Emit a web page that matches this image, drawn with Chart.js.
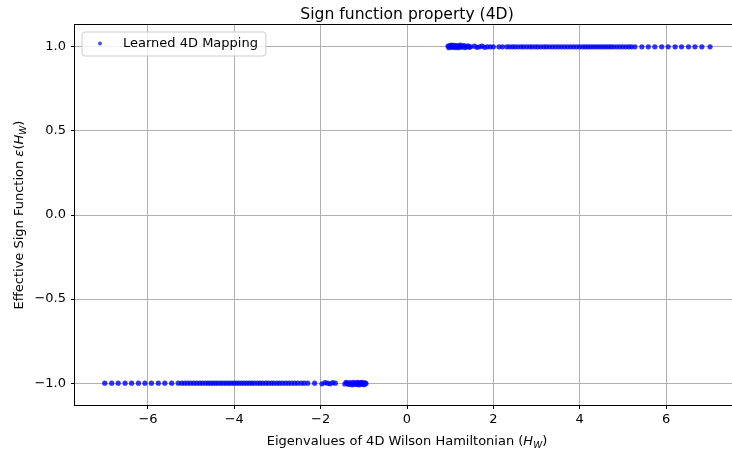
<!DOCTYPE html>
<html>
<head>
<meta charset="utf-8">
<title>Sign function property (4D)</title>
<script src="https://cdn.jsdelivr.net/npm/chart.js@4.4.0/dist/chart.umd.min.js"></script>
<style>
  html, body { margin: 0; padding: 0; background: #fff; overflow: hidden; }
  #wrap { width: 732px; height: 451px; overflow: hidden; }
</style>
</head>
<body>
<div id="wrap"><canvas id="chart" width="760" height="451"></canvas></div>
<script>
//! Data

const seriesLabel = "Learned 4D Mapping";

// negative eigenvalues -> sign -1
const negX = [
  -7.00, -6.84, -6.69, -6.53, -6.38, -6.22, -6.07, -5.92, -5.76, -5.61,
  -5.45, -5.30, -5.22, -5.15, -5.08, -5.01, -4.94, -4.87, -4.80, -4.74,
  -4.67, -4.61, -4.55, -4.49, -4.43, -4.37, -4.31, -4.25, -4.19, -4.13,
  -4.07, -4.01, -3.95, -3.89, -3.83, -3.77, -3.71, -3.65, -3.59, -3.53,
  -3.46, -3.40, -3.34, -3.27, -3.21, -3.14, -3.08, -3.01, -2.95, -2.88,
  -2.81, -2.74, -2.67, -2.60, -2.53, -2.45, -2.38, -2.30, -2.14,
  -1.97, -1.90, -1.84, -1.78, -1.72, -1.66,
  -1.44, -1.41, -1.38, -1.35, -1.32, -1.29, -1.27, -1.24, -1.22, -1.19,
  -1.17, -1.15, -1.13, -1.11, -1.09, -1.07, -1.05, -1.03, -1.01, -0.99,
  -0.97, -0.95
];
const negY = [
  -1.0, -1.0, -1.0, -1.0, -1.0, -1.0, -1.0, -1.0, -1.0, -1.0,
  -1.0, -1.0, -1.0, -1.0, -1.0, -1.0, -1.0, -1.0, -1.0, -1.0,
  -1.0, -1.0, -1.0, -1.0, -1.0, -1.0, -1.0, -1.0, -1.0, -1.0,
  -1.0, -1.0, -1.0, -1.0, -1.0, -1.0, -1.0, -1.0, -1.0, -1.0,
  -1.0, -1.0, -1.0, -1.0, -1.0, -1.0, -1.0, -1.0, -1.0, -1.0,
  -1.0, -1.0, -1.0, -1.0, -1.0, -1.0, -1.0, -1.0, -1.0,
  -1.004, -0.997, -1.0, -1.004, -0.997, -1.0,
  -1.005, -0.995, -1.0, -1.008, -0.997, -1.003, -1.01, -0.995, -1.006, -1.0,
  -1.008, -0.996, -1.004, -1.01, -0.997, -1.0, -1.007, -0.995, -1.004, -1.009,
  -0.998, -1.002
];

// positive eigenvalues -> sign +1
const posX = [
  0.95, 0.97, 0.99, 1.01, 1.03, 1.05, 1.07, 1.09, 1.11, 1.13,
  1.15, 1.17, 1.19, 1.22, 1.24, 1.27, 1.29, 1.32, 1.35, 1.38,
  1.41, 1.44, 1.47,
  1.56, 1.62, 1.68, 1.74, 1.80, 1.86, 1.93, 2.00,
  2.13, 2.21,
  2.31, 2.37, 2.44, 2.50, 2.57, 2.64, 2.70, 2.77, 2.84, 2.90,
  2.97, 3.03, 3.10, 3.17, 3.23, 3.30, 3.37, 3.44, 3.51, 3.58,
  3.65, 3.72, 3.79, 3.86, 3.93, 4.00, 4.07,
  4.13, 4.19, 4.25, 4.31, 4.37, 4.43, 4.49, 4.55, 4.61, 4.67,
  4.73, 4.79, 4.86, 4.93, 5.00, 5.07, 5.14, 5.20,
  5.28, 5.44, 5.59, 5.74, 5.90, 6.05, 6.21, 6.36, 6.52, 6.67,
  6.83, 7.02
];
const posY = [
  1.005, 0.995, 1.008, 1.0, 1.01, 0.997, 1.004, 1.009, 0.996, 1.006,
  1.0, 1.008, 0.995, 1.004, 1.01, 0.998, 1.003, 1.007, 0.996, 1.002,
  1.006, 0.998, 1.0,
  1.004, 0.997, 1.0, 1.004, 0.997, 1.0, 1.0, 1.0,
  1.0, 1.0,
  1.0, 1.0, 1.0, 1.0, 1.0, 1.0, 1.0, 1.0, 1.0, 1.0,
  1.0, 1.0, 1.0, 1.0, 1.0, 1.0, 1.0, 1.0, 1.0, 1.0,
  1.0, 1.0, 1.0, 1.0, 1.0, 1.0, 1.0,
  1.0, 1.0, 1.0, 1.0, 1.0, 1.0, 1.0, 1.0, 1.0, 1.0,
  1.0, 1.0, 1.0, 1.0, 1.0, 1.0, 1.0, 1.0,
  1.0, 1.0, 1.0, 1.0, 1.0, 1.0, 1.0, 1.0, 1.0, 1.0,
  1.0, 1.0
];

const xTicks = [-6, -4, -2, 0, 2, 4, 6];
const xTickLabels = ["\u22126", "\u22124", "\u22122", "0", "2", "4", "6"];
const yTicks = [-1.0, -0.5, 0.0, 0.5, 1.0];
const yTickLabels = ["\u22121.0", "\u22120.5", "0.0", "0.5", "1.0"];

const titleText = "Sign function property (4D)";

//! Chart JS

const FONT = '"DejaVu Sans", sans-serif';
const pointColor = "rgba(0, 0, 255, 0.8)";

const points = [];
negX.forEach((x, i) => points.push({ x: x, y: negY[i] }));
posX.forEach((x, i) => points.push({ x: x, y: posY[i] }));

// draws a line of text made of differently styled pieces, centred on cx
function drawParts(ctx, parts, cx, cy) {
  let total = 0;
  parts.forEach((p) => {
    ctx.font = p.font;
    p.w = ctx.measureText(p.text).width;
    total += p.w;
  });
  let x = cx - total / 2;
  parts.forEach((p) => {
    ctx.font = p.font;
    ctx.fillText(p.text, x, cy + (p.dy || 0));
    x += p.w;
  });
}

const normal13 = "13px " + FONT;
const italic13 = "italic 13px " + FONT;
const sub9 = "italic 9.2px " + FONT;

const decorPlugin = {
  id: "decor",
  afterDatasetsDraw(chart) {
    const ctx = chart.ctx;
    const ca = chart.chartArea;
    ctx.save();

    // frame
    ctx.strokeStyle = "#000";
    ctx.lineWidth = 1;
    ctx.strokeRect(ca.left - 0.5, ca.top - 0.5, ca.right - ca.left + 1, ca.bottom - ca.top + 1);

    // legend
    ctx.font = normal13;
    const tw = ctx.measureText(seriesLabel).width;
    const bx = ca.left + 7, by = ca.top + 7;
    const bw = 41 + tw + 8, bh = 24, r = 3;
    ctx.beginPath();
    ctx.moveTo(bx + r, by);
    ctx.lineTo(bx + bw - r, by);
    ctx.arcTo(bx + bw, by, bx + bw, by + r, r);
    ctx.lineTo(bx + bw, by + bh - r);
    ctx.arcTo(bx + bw, by + bh, bx + bw - r, by + bh, r);
    ctx.lineTo(bx + r, by + bh);
    ctx.arcTo(bx, by + bh, bx, by + bh - r, r);
    ctx.lineTo(bx, by + r);
    ctx.arcTo(bx, by, bx + r, by, r);
    ctx.closePath();
    ctx.fillStyle = "rgba(255,255,255,0.8)";
    ctx.fill();
    ctx.strokeStyle = "#cccccc";
    ctx.stroke();

    ctx.fillStyle = "rgba(0, 0, 255, 0.7)";
    ctx.beginPath();
    ctx.arc(bx + 18, by + 11.5, 2.0, 0, Math.PI * 2);
    ctx.fill();

    ctx.fillStyle = "#000";
    ctx.textBaseline = "middle";
    ctx.textAlign = "left";
    ctx.fillText(seriesLabel, bx + 41, by + 12);

    // title
    const cx = (ca.left + ca.right) / 2;
    ctx.textBaseline = "alphabetic";
    ctx.font = "15.6px " + FONT;
    ctx.textAlign = "center";
    ctx.fillText(titleText, cx, 19);

    // x axis label
    ctx.textAlign = "left";
    drawParts(ctx, [
      { text: "Eigenvalues of 4D Wilson Hamiltonian (", font: normal13 },
      { text: "H", font: italic13 },
      { text: "W", font: sub9, dy: 2.7 },
      { text: ")", font: normal13 },
    ], cx, 445);

    // y axis label
    ctx.translate(23, (ca.top + ca.bottom) / 2);
    ctx.rotate(-Math.PI / 2);
    drawParts(ctx, [
      { text: "Effective Sign Function ", font: normal13 },
      { text: "\u03b5", font: italic13 },
      { text: "(", font: normal13 },
      { text: "H", font: italic13 },
      { text: "W", font: sub9, dy: 2.7 },
      { text: ")", font: normal13 },
    ], 0, 0);

    ctx.restore();
  },
};

const chart = document.getElementById("chart");

new Chart(chart, {
  type: "scatter",
  data: {
    datasets: [
      {
        label: seriesLabel,
        data: points,
        backgroundColor: pointColor,
        borderWidth: 0,
        pointRadius: 2.6,
        pointHoverRadius: 2.6,
      },
    ],
  },
  options: {
    responsive: false,
    animation: false,
    devicePixelRatio: 1,
    layout: {
      padding: { top: 25, right: 21, bottom: 0, left: 0 },
    },
    plugins: {
      legend: { display: false },
      title: { display: false, text: titleText },
      tooltip: { enabled: false },
    },
    scales: {
      x: {
        type: "linear",
        min: -7.69,
        max: 7.69,
        afterBuildTicks: (s) => { s.ticks = xTicks.map((v) => ({ value: v })); },
        afterFit: (s) => { s.height = 46; },
        ticks: {
          callback: (v, i) => xTickLabels[i],
          color: "#000",
          font: { family: FONT, size: 13 },
          padding: 3,
          maxRotation: 0,
          autoSkip: false,
        },
        grid: { color: "#b0b0b0", lineWidth: 1, tickColor: "#000", tickLength: 4, tickWidth: 1 },
        border: { display: false },
      },
      y: {
        type: "linear",
        min: -1.13,
        max: 1.13,
        afterBuildTicks: (s) => { s.ticks = yTicks.map((v) => ({ value: v })); },
        afterFit: (s) => { s.width = 75; },
        ticks: {
          callback: (v, i) => yTickLabels[i],
          color: "#000",
          font: { family: FONT, size: 13 },
          padding: 5,
          autoSkip: false,
        },
        grid: { color: "#b0b0b0", lineWidth: 1, tickColor: "#000", tickLength: 4, tickWidth: 1 },
        border: { display: false },
      },
    },
  },
  plugins: [decorPlugin],
});
</script>
</body>
</html>
